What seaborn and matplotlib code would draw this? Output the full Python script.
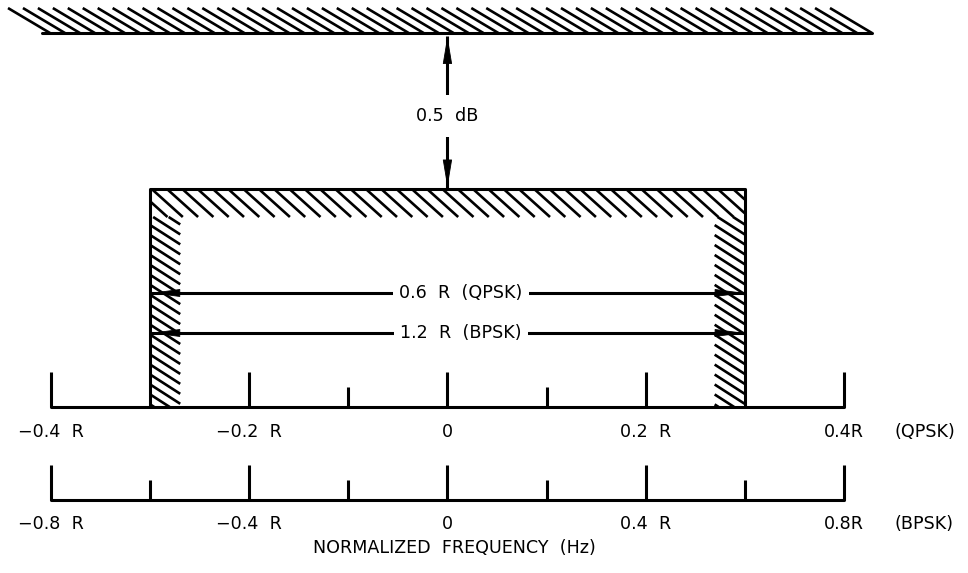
import numpy as np
import pandas as pd
import matplotlib
matplotlib.use("Agg")
import matplotlib.pyplot as plt
from matplotlib.collections import LineCollection
from matplotlib.patches import FancyArrowPatch
import seaborn as sns

# ---------------- data ----------------
qpsk_major = [-0.4, -0.2, 0.0, 0.2, 0.4]
qpsk_minor = [-0.1, 0.1]
qpsk_labels = ["\u22120.4  R", "\u22120.2  R", "0", "0.2  R", "0.4R"]
bpsk_major = [-0.8, -0.4, 0.0, 0.4, 0.8]
bpsk_minor = [-0.6, -0.2, 0.2, 0.6]
bpsk_labels = ["\u22120.8  R", "\u22120.4  R", "0", "0.4  R", "0.8R"]
mask_bw_qpsk = 0.6          # occupied bandwidth, units of R (QPSK)
mask_bw_bpsk = 1.2          # occupied bandwidth, units of R (BPSK)
ripple_db = 0.5             # limit above mask level
mask_level = 0.0
dim_labels = ["0.6  R  (QPSK)", "1.2  R  (BPSK)"]
axis_names = ["(QPSK)", "(BPSK)"]
xlabel = "NORMALIZED  FREQUENCY  (Hz)"

# ---------------- layout ----------------
XL = (-0.4516, 0.5254)
YL = (-1.2308, 0.6058)
limit_x = (-0.4092, 0.4285)
limit_hatch_h = 0.080
band_h = 0.0897
band_w = 0.0303
dim_rows = [-0.3333, -0.4615]
dim_text_x = 0.0137
axis_rows = [-0.6987, -0.9968]
tick_major_h = 0.1122
tick_minor_h = 0.0625
label_rows = [-0.7788, -1.0737]
title_y = -1.1506
name_x = 0.4517
db_label_y = 0.234

LW = 2.2
HLW = 1.9
FS = 12.6

sns.set_theme(style="white")
plt.rcParams["font.family"] = ["DejaVu Sans"]

fig = plt.figure(figsize=(9.68, 5.73), dpi=100)
ax = fig.add_axes([0, 0, 1, 1])
ax.set_xlim(*XL)
ax.set_ylim(*YL)
ax.axis("off")

sx = 968 / (XL[1] - XL[0])   # px per data unit in x
sy = 573 / (YL[1] - YL[0])   # px per data unit in y


def clip_seg(p0, p1, x0, x1, y0, y1):
    (ax0, ay0), (ax1, ay1) = p0, p1
    dx, dy = ax1 - ax0, ay1 - ay0
    t0, t1 = 0.0, 1.0
    for p, q in ((-dx, ax0 - x0), (dx, x1 - ax0), (-dy, ay0 - y0), (dy, y1 - ay0)):
        if p == 0:
            if q < 0:
                return None
            continue
        r = q / p
        if p < 0:
            t0 = max(t0, r)
        else:
            t1 = min(t1, r)
        if t0 > t1:
            return None
    return [(ax0 + t0 * dx, ay0 + t0 * dy), (ax0 + t1 * dx, ay0 + t1 * dy)]


def hatch_rect(x0, x1, y0, y1, dx_px, dy_px, step_px, phase_px=0.0):
    h_px = (y1 - y0) * sy
    span = h_px * dx_px / dy_px
    w_px = (x1 - x0) * sx
    starts = np.arange(-span - step_px + phase_px, w_px + step_px, step_px)
    segs = []
    for s in starts:
        c = clip_seg((x0 + s / sx, y1), (x0 + (s + span) / sx, y0), x0, x1, y0, y1)
        if c is not None and np.hypot((c[1][0] - c[0][0]) * sx, (c[1][1] - c[0][1]) * sy) > 3:
            segs.append(c)
    ax.add_collection(LineCollection(segs, colors="black", linewidths=HLW, capstyle="butt"))


def arrow(p0, p1, hl, hw):
    ax.plot([p0[0], p1[0]], [p0[1], p1[1]], color="black", lw=LW,
            solid_capstyle="butt", zorder=2)
    a = FancyArrowPatch(p0, p1, arrowstyle=f"<|-|>,head_length={hl},head_width={hw}",
                        mutation_scale=10, color="black", lw=0.6,
                        shrinkA=0, shrinkB=0, zorder=2)
    ax.add_patch(a)


# ---- upper limit line with hatching ----
lim_y = mask_level + ripple_db
sns.lineplot(x=list(limit_x), y=[lim_y, lim_y], color="black", lw=LW, ax=ax)
dx_top = 42 / sx
bottoms = np.linspace(limit_x[0] + 8 / sx, limit_x[1], 56)
segs = [[(b - dx_top, lim_y + limit_hatch_h), (b, lim_y)] for b in bottoms]
ax.add_collection(LineCollection(segs, colors="black", linewidths=HLW, capstyle="butt"))

# ---- mask outline ----
half = mask_bw_qpsk / 2
a1 = axis_rows[0]
mask_df = pd.DataFrame({"x": [-half, -half, half, half],
                        "y": [a1, mask_level, mask_level, a1]})
sns.lineplot(data=mask_df, x="x", y="y", sort=False, estimator=None,
             color="black", lw=LW, ax=ax)
# mask hatching
hatch_rect(-half, half, mask_level - band_h, mask_level, 30, 27, 15.3, 2)
hatch_rect(-half, -half + band_w, a1, mask_level - band_h, 28, 18, 15.5, 4)
hatch_rect(half - band_w, half, a1, mask_level - band_h, 28, 18, 15.5, 4)

# ---- 0.5 dB dimension ----
arrow((0, mask_level + 1.5 / sy), (0, lim_y - 3 / sy), 1.8, 0.3)
ax.text(0, db_label_y, f"{ripple_db}  dB", ha="center", va="center", fontsize=FS,
        color="black", zorder=4,
        bbox=dict(boxstyle="square,pad=0.7", fc="white", ec="none"))

# ---- bandwidth dimension arrows ----
for row, lab in zip(dim_rows, dim_labels):
    arrow((-half, row), (half, row), 1.9, 0.25)
    ax.text(dim_text_x, row, lab, ha="center", va="center", fontsize=FS,
            color="black", zorder=4,
            bbox=dict(boxstyle="square,pad=0.35", fc="white", ec="none"))

# ---- frequency axes ----
scales = [(qpsk_major, qpsk_minor, qpsk_labels, 1.0),
          (bpsk_major, bpsk_minor, bpsk_labels, 2.0)]
for (major, minor, labels, k), yrow, lrow, name in zip(scales, axis_rows, label_rows, axis_names):
    xs_major = [m / k for m in major]
    xs_minor = [m / k for m in minor]
    sns.lineplot(x=[xs_major[0], xs_major[-1]], y=[yrow, yrow], color="black", lw=LW, ax=ax)
    ax.vlines(xs_major, yrow, yrow + tick_major_h, color="black", lw=LW)
    ax.vlines(xs_minor, yrow, yrow + tick_minor_h, color="black", lw=LW)
    for xv, lab in zip(xs_major, labels):
        ax.text(xv, lrow, lab, ha="center", va="center", fontsize=FS, color="black")
    ax.text(name_x, lrow, name, ha="left", va="center", fontsize=FS, color="black")

ax.text(0.007, title_y, xlabel, ha="center", va="center", fontsize=FS, color="black")

fig.savefig("out.png", dpi=100, facecolor="white")
